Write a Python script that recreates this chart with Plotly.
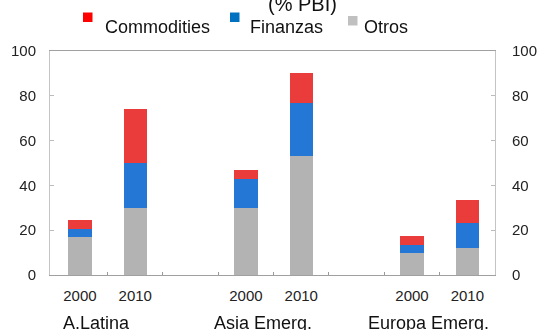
import plotly.graph_objects as go

# ---- data ----
regions = ["A.Latina", "Asia Emerg.", "Europa Emerg."]
years = ["2000", "2010"]
x_pos = [0, 1, 3, 4, 6, 7]
year_labels = ["2000", "2010", "2000", "2010", "2000", "2010"]
otros = [17, 30, 30, 53, 10, 12]
finanzas = [3.5, 20, 13, 24, 3.5, 11]
commodities = [4, 24, 4, 13, 4, 10.5]
y_ticks = [0, 20, 40, 60, 80, 100]

C_RED = "#ea3d3b"
C_BLUE = "#2577d6"
C_GRAY = "#b3b3b3"
FONT = "Liberation Sans, Arial, sans-serif"

# plot area in pixels (for paper conversion)
L, R, T, B = 50, 495, 51, 275
W, H = 539, 330
def px(x):
    return (x - L) / (R - L)
def py(y):
    return (B - y) / (B - T)

fig = go.Figure()
for name, vals, col in [("Otros", otros, C_GRAY), ("Finanzas", finanzas, C_BLUE),
                        ("Commodities", commodities, C_RED)]:
    fig.add_trace(go.Bar(x=x_pos, y=vals, name=name, marker=dict(color=col, line=dict(width=0)),
                         width=0.42, showlegend=False))
# invisible trace to activate right axis
fig.add_trace(go.Scatter(x=x_pos, y=otros, yaxis="y2", mode="markers", opacity=0,
                         showlegend=False, hoverinfo="skip"))

axis_font = dict(family=FONT, size=15, color="#222")
fig.update_layout(
    width=W, height=H, barmode="stack",
    margin=dict(l=L, r=W - R, t=T, b=H - B),
    paper_bgcolor="white", plot_bgcolor="white",
    xaxis=dict(range=[-0.54, 7.5], tickmode="array", tickvals=x_pos, ticktext=year_labels,
               tickfont=axis_font, showgrid=False, zeroline=False, ticks="",
               showline=True, linecolor="#a0a0a0", linewidth=1, mirror=True,
               ticklabelstandoff=7, automargin=False,
               minor=dict(tickmode="array", tickvals=[0.5, 1.5, 2.5, 3.5, 4.5, 5.5, 6.5],
                          ticks="inside", ticklen=3, tickcolor="#999", showgrid=False)),
    yaxis=dict(range=[0, 100], tickvals=y_ticks, tickfont=axis_font, showgrid=False,
               zeroline=False, ticks="inside", ticklen=4, tickcolor="#bbb",
               showline=True, linecolor="#c4c4c4", linewidth=1, mirror=True,
               ticklabelstandoff=10, automargin=False),
    yaxis2=dict(range=[0, 100], tickvals=y_ticks, tickfont=axis_font, overlaying="y",
                side="right", showgrid=False, zeroline=False, ticks="inside", ticklen=4,
                tickcolor="#bbb", showline=False, ticklabelstandoff=16, automargin=False),
)

# group labels (partly cut off at bottom edge)
for i, reg in enumerate(regions):
    fig.add_annotation(x=x_pos[2 * i] + 0.3, y=py(323), xref="x", yref="paper", text=reg,
                       showarrow=False, xanchor="center", yanchor="middle",
                       font=dict(family=FONT, size=18, color="#111"))

# title (partly cut off at top)
fig.add_annotation(x=px(302), y=py(17), xref="paper", yref="paper", text="(% PBI)",
                   showarrow=False, xanchor="center", yanchor="bottom",
                   font=dict(family=FONT, size=20, color="#111"))

# custom legend
legend_items = [("Commodities", "#ff0000", 83, 12.5, 103),
                ("Finanzas", "#0070c0", 230, 12.5, 248),
                ("Otros", "#c0c0c0", 348, 16, 362)]
for name, col, sx, sy, tx in legend_items:
    fig.add_shape(type="rect", xref="paper", yref="paper", x0=px(sx), x1=px(sx + 9.5),
                  y0=py(sy), y1=py(sy + 9.5), fillcolor=col, line=dict(width=0))
    fig.add_annotation(x=px(tx), y=py(26.5), xref="paper", yref="paper", text=name,
                       showarrow=False, xanchor="left", yanchor="middle",
                       font=dict(family=FONT, size=18, color="#111"))

fig.write_html("out.html", config={"displayModeBar": False},
               post_script="document.body.style.margin='0';")
